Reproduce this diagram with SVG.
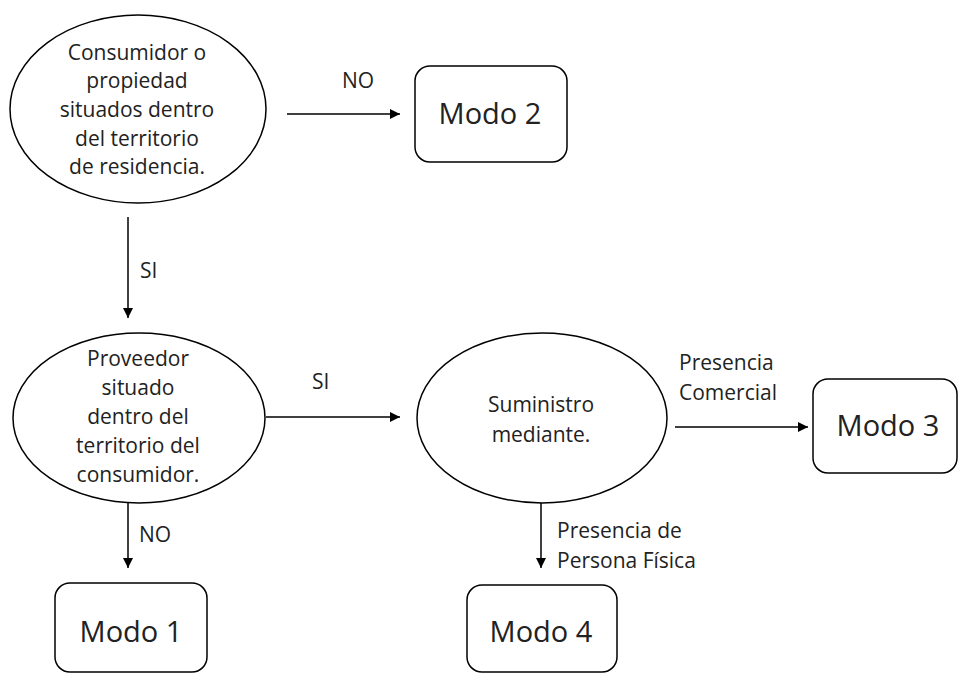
<svg xmlns="http://www.w3.org/2000/svg" width="958" height="675" viewBox="0 0 958 675">
<style>
.shape{fill:#fff;stroke:#000;stroke-width:1.5}
.t{font-family:"Open Sans","Liberation Sans",sans-serif;font-size:21px;fill:#222;text-anchor:middle}
.l{font-family:"Open Sans","Liberation Sans",sans-serif;font-size:21px;fill:#222}
.big{font-family:"Open Sans","Liberation Sans",sans-serif;font-size:29px;fill:#222;text-anchor:middle}
.c{stroke:#000;stroke-width:1.5;fill:none}
</style>
<defs>
<marker id="ah" viewBox="0 0 10 10" refX="10" refY="5" markerWidth="10" markerHeight="10" markerUnits="userSpaceOnUse" orient="auto">
<path d="M0,0 L10,5 L0,10 z" fill="#000"/>
</marker>
</defs>
<rect width="958" height="675" fill="#fff"/>
<g id="connectors">
<line class="c" x1="287" y1="114" x2="400" y2="114" marker-end="url(#ah)"/>
<line class="c" x1="128" y1="217" x2="128" y2="318" marker-end="url(#ah)"/>
<line class="c" x1="266" y1="417" x2="400" y2="417" marker-end="url(#ah)"/>
<line class="c" x1="675" y1="427" x2="808" y2="427" marker-end="url(#ah)"/>
<line class="c" x1="128" y1="503" x2="128" y2="568" marker-end="url(#ah)"/>
<line class="c" x1="541" y1="502" x2="541" y2="568" marker-end="url(#ah)"/>
<text class="l" x="342" y="88">NO</text>
<text class="l" x="140" y="278">SI</text>
<text class="l" x="312" y="389">SI</text>
<text class="l" x="679" y="370">Presencia</text>
<text class="l" x="679" y="400">Comercial</text>
<text class="l" x="139" y="542">NO</text>
<text class="l" x="557" y="538">Presencia de</text>
<text class="l" x="557" y="568">Persona Física</text>
</g>
<g id="n1">
<ellipse class="shape" cx="138" cy="109" rx="128" ry="94"/>
<text class="t" x="137" y="60">Consumidor o</text>
<text class="t" x="137" y="88">propiedad</text>
<text class="t" x="137" y="117">situados dentro</text>
<text class="t" x="137" y="146">del territorio</text>
<text class="t" x="137" y="174">de residencia.</text>
</g>
<g id="modo2">
<rect class="shape" x="415" y="66" width="152" height="96" rx="15"/>
<text class="big" x="490" y="124">Modo 2</text>
</g>
<g id="n2">
<ellipse class="shape" cx="139" cy="418" rx="126" ry="85"/>
<text class="t" x="138" y="366">Proveedor</text>
<text class="t" x="138" y="395">situado</text>
<text class="t" x="138" y="424">dentro del</text>
<text class="t" x="138" y="453">territorio del</text>
<text class="t" x="138" y="482">consumidor.</text>
</g>
<g id="n3">
<ellipse class="shape" cx="542" cy="418" rx="125" ry="85"/>
<text class="t" x="541" y="412">Suministro</text>
<text class="t" x="541" y="442">mediante.</text>
</g>
<g id="modo3">
<rect class="shape" x="813" y="379" width="144" height="94" rx="15"/>
<text class="big" x="888" y="436">Modo 3</text>
</g>
<g id="modo1">
<rect class="shape" x="55" y="583" width="152" height="89" rx="15"/>
<text class="big" x="131" y="642">Modo 1</text>
</g>
<g id="modo4">
<rect class="shape" x="467" y="585" width="150" height="87" rx="15"/>
<text class="big" x="541" y="642">Modo 4</text>
</g>
</svg>
